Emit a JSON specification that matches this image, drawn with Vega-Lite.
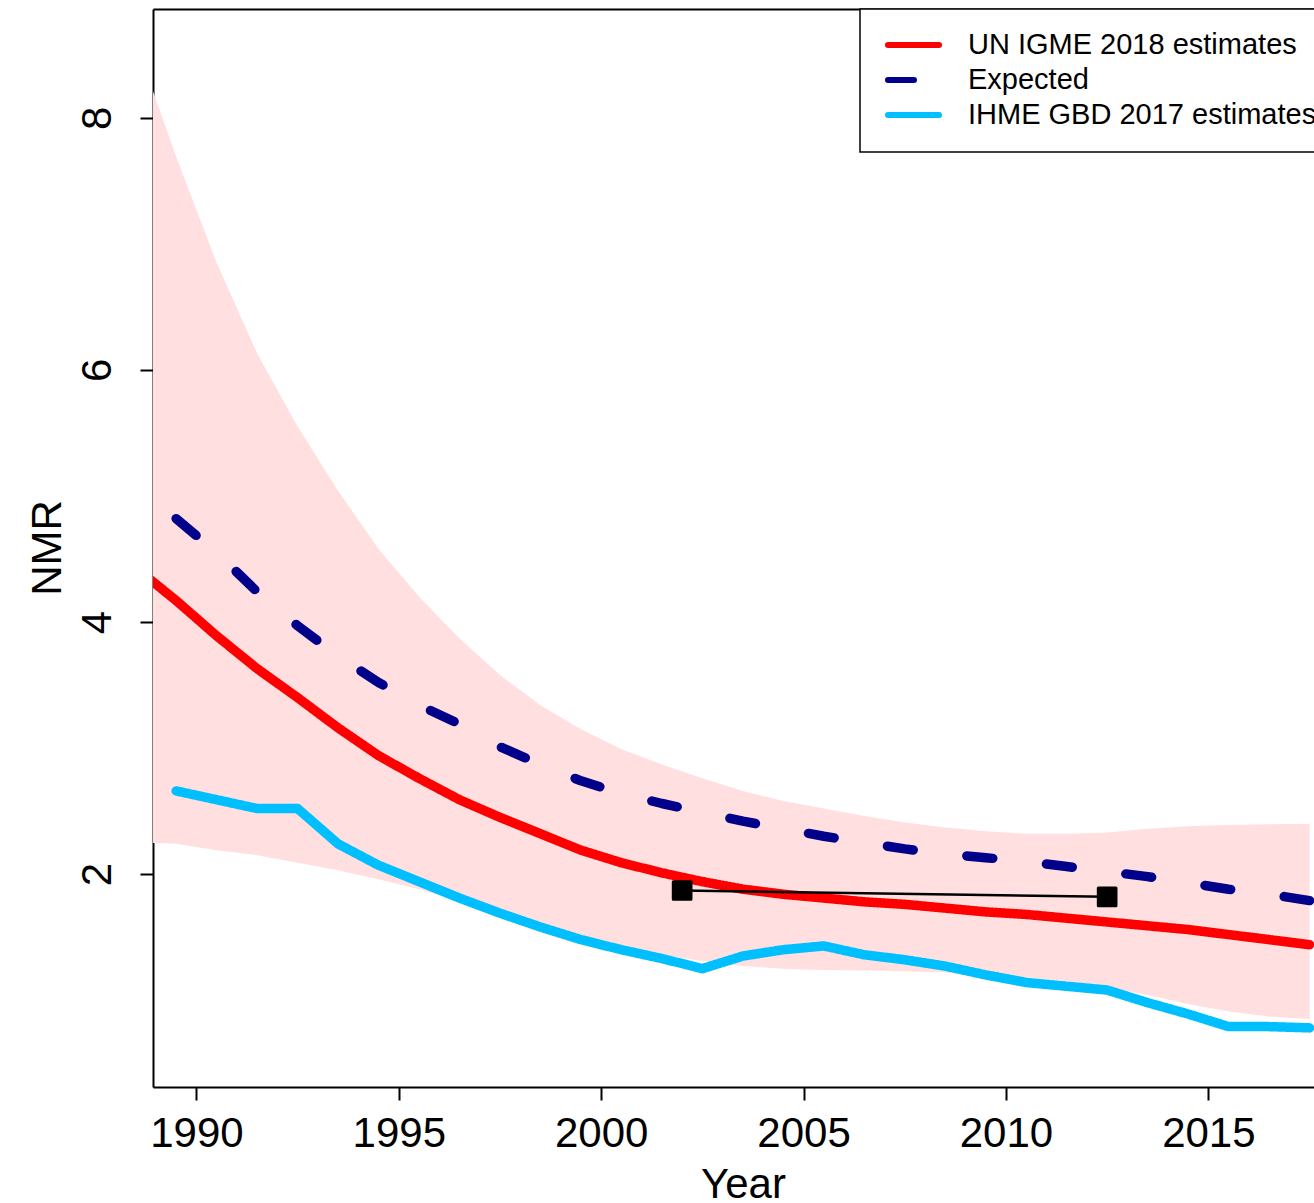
{
  "$schema": "https://vega.github.io/schema/vega-lite/v6.json",
  "width": 1161,
  "height": 1078,
  "autosize": {"type": "none"},
  "padding": {"left": 153, "top": 9, "right": 0, "bottom": 116},
  "background": "white",
  "config": {
    "view": {"stroke": null},
    "font": "Liberation Sans",
    "axis": {"grid": false}
  },
  "datasets": {
    "band": [
      {"year": 1988.5, "nmr": 2.25, "nmr_upper": 8.60},
      {"year": 1989.5, "nmr": 2.24, "nmr_upper": 7.69},
      {"year": 1990.5, "nmr": 2.19, "nmr_upper": 6.85},
      {"year": 1991.5, "nmr": 2.15, "nmr_upper": 6.13},
      {"year": 1992.5, "nmr": 2.09, "nmr_upper": 5.55},
      {"year": 1993.5, "nmr": 2.03, "nmr_upper": 5.04},
      {"year": 1994.5, "nmr": 1.96, "nmr_upper": 4.58},
      {"year": 1995.5, "nmr": 1.88, "nmr_upper": 4.20},
      {"year": 1996.5, "nmr": 1.79, "nmr_upper": 3.87},
      {"year": 1997.5, "nmr": 1.69, "nmr_upper": 3.58},
      {"year": 1998.5, "nmr": 1.59, "nmr_upper": 3.34},
      {"year": 1999.5, "nmr": 1.49, "nmr_upper": 3.15},
      {"year": 2000.5, "nmr": 1.42, "nmr_upper": 2.99},
      {"year": 2001.5, "nmr": 1.36, "nmr_upper": 2.87},
      {"year": 2002.5, "nmr": 1.31, "nmr_upper": 2.76},
      {"year": 2003.5, "nmr": 1.27, "nmr_upper": 2.66},
      {"year": 2004.5, "nmr": 1.25, "nmr_upper": 2.58},
      {"year": 2005.5, "nmr": 1.24, "nmr_upper": 2.52},
      {"year": 2006.5, "nmr": 1.235, "nmr_upper": 2.46},
      {"year": 2007.5, "nmr": 1.23, "nmr_upper": 2.41},
      {"year": 2008.5, "nmr": 1.22, "nmr_upper": 2.37},
      {"year": 2009.5, "nmr": 1.20, "nmr_upper": 2.34},
      {"year": 2010.5, "nmr": 1.18, "nmr_upper": 2.32},
      {"year": 2011.5, "nmr": 1.15, "nmr_upper": 2.32},
      {"year": 2012.5, "nmr": 1.10, "nmr_upper": 2.33},
      {"year": 2013.5, "nmr": 1.04, "nmr_upper": 2.36},
      {"year": 2014.5, "nmr": 0.97, "nmr_upper": 2.38},
      {"year": 2015.5, "nmr": 0.91, "nmr_upper": 2.39},
      {"year": 2016.5, "nmr": 0.87, "nmr_upper": 2.395},
      {"year": 2017.5, "nmr": 0.85, "nmr_upper": 2.40}
    ],
    "lines": [
      {"series": "UN IGME 2018 estimates", "year": 1988.5, "nmr": 4.43},
      {"series": "UN IGME 2018 estimates", "year": 1989.5, "nmr": 4.17},
      {"series": "UN IGME 2018 estimates", "year": 1990.5, "nmr": 3.89},
      {"series": "UN IGME 2018 estimates", "year": 1991.5, "nmr": 3.63},
      {"series": "UN IGME 2018 estimates", "year": 1992.5, "nmr": 3.40},
      {"series": "UN IGME 2018 estimates", "year": 1993.5, "nmr": 3.16},
      {"series": "UN IGME 2018 estimates", "year": 1994.5, "nmr": 2.94},
      {"series": "UN IGME 2018 estimates", "year": 1995.5, "nmr": 2.76},
      {"series": "UN IGME 2018 estimates", "year": 1996.5, "nmr": 2.59},
      {"series": "UN IGME 2018 estimates", "year": 1997.5, "nmr": 2.45},
      {"series": "UN IGME 2018 estimates", "year": 1998.5, "nmr": 2.32},
      {"series": "UN IGME 2018 estimates", "year": 1999.5, "nmr": 2.19},
      {"series": "UN IGME 2018 estimates", "year": 2000.5, "nmr": 2.09},
      {"series": "UN IGME 2018 estimates", "year": 2001.5, "nmr": 2.01},
      {"series": "UN IGME 2018 estimates", "year": 2002.5, "nmr": 1.94},
      {"series": "UN IGME 2018 estimates", "year": 2003.5, "nmr": 1.88},
      {"series": "UN IGME 2018 estimates", "year": 2004.5, "nmr": 1.84},
      {"series": "UN IGME 2018 estimates", "year": 2005.5, "nmr": 1.81},
      {"series": "UN IGME 2018 estimates", "year": 2006.5, "nmr": 1.78},
      {"series": "UN IGME 2018 estimates", "year": 2007.5, "nmr": 1.76},
      {"series": "UN IGME 2018 estimates", "year": 2008.5, "nmr": 1.73},
      {"series": "UN IGME 2018 estimates", "year": 2009.5, "nmr": 1.70},
      {"series": "UN IGME 2018 estimates", "year": 2010.5, "nmr": 1.68},
      {"series": "UN IGME 2018 estimates", "year": 2011.5, "nmr": 1.65},
      {"series": "UN IGME 2018 estimates", "year": 2012.5, "nmr": 1.62},
      {"series": "UN IGME 2018 estimates", "year": 2013.5, "nmr": 1.59},
      {"series": "UN IGME 2018 estimates", "year": 2014.5, "nmr": 1.56},
      {"series": "UN IGME 2018 estimates", "year": 2015.5, "nmr": 1.52},
      {"series": "UN IGME 2018 estimates", "year": 2016.5, "nmr": 1.48},
      {"series": "UN IGME 2018 estimates", "year": 2017.5, "nmr": 1.44},
      {"series": "Expected", "year": 1989.5, "nmr": 4.82},
      {"series": "Expected", "year": 1990.5, "nmr": 4.55},
      {"series": "Expected", "year": 1991.5, "nmr": 4.24},
      {"series": "Expected", "year": 1992.5, "nmr": 3.97},
      {"series": "Expected", "year": 1993.5, "nmr": 3.73},
      {"series": "Expected", "year": 1994.5, "nmr": 3.52},
      {"series": "Expected", "year": 1995.5, "nmr": 3.34},
      {"series": "Expected", "year": 1996.5, "nmr": 3.19},
      {"series": "Expected", "year": 1997.5, "nmr": 3.01},
      {"series": "Expected", "year": 1998.5, "nmr": 2.87},
      {"series": "Expected", "year": 1999.5, "nmr": 2.74},
      {"series": "Expected", "year": 2000.5, "nmr": 2.64},
      {"series": "Expected", "year": 2001.5, "nmr": 2.56},
      {"series": "Expected", "year": 2002.5, "nmr": 2.49},
      {"series": "Expected", "year": 2003.5, "nmr": 2.42},
      {"series": "Expected", "year": 2004.5, "nmr": 2.36},
      {"series": "Expected", "year": 2005.5, "nmr": 2.30},
      {"series": "Expected", "year": 2006.5, "nmr": 2.25},
      {"series": "Expected", "year": 2007.5, "nmr": 2.20},
      {"series": "Expected", "year": 2008.5, "nmr": 2.16},
      {"series": "Expected", "year": 2009.5, "nmr": 2.13},
      {"series": "Expected", "year": 2010.5, "nmr": 2.10},
      {"series": "Expected", "year": 2011.5, "nmr": 2.06},
      {"series": "Expected", "year": 2012.5, "nmr": 2.02},
      {"series": "Expected", "year": 2013.5, "nmr": 1.98},
      {"series": "Expected", "year": 2014.5, "nmr": 1.93},
      {"series": "Expected", "year": 2015.5, "nmr": 1.88},
      {"series": "Expected", "year": 2016.5, "nmr": 1.84},
      {"series": "Expected", "year": 2017.5, "nmr": 1.79},
      {"series": "IHME GBD 2017 estimates", "year": 1989.5, "nmr": 2.66},
      {"series": "IHME GBD 2017 estimates", "year": 1990.5, "nmr": 2.59},
      {"series": "IHME GBD 2017 estimates", "year": 1991.5, "nmr": 2.52},
      {"series": "IHME GBD 2017 estimates", "year": 1992.5, "nmr": 2.52},
      {"series": "IHME GBD 2017 estimates", "year": 1993.5, "nmr": 2.24},
      {"series": "IHME GBD 2017 estimates", "year": 1994.5, "nmr": 2.07},
      {"series": "IHME GBD 2017 estimates", "year": 1995.5, "nmr": 1.94},
      {"series": "IHME GBD 2017 estimates", "year": 1996.5, "nmr": 1.81},
      {"series": "IHME GBD 2017 estimates", "year": 1997.5, "nmr": 1.69},
      {"series": "IHME GBD 2017 estimates", "year": 1998.5, "nmr": 1.58},
      {"series": "IHME GBD 2017 estimates", "year": 1999.5, "nmr": 1.48},
      {"series": "IHME GBD 2017 estimates", "year": 2000.5, "nmr": 1.40},
      {"series": "IHME GBD 2017 estimates", "year": 2001.5, "nmr": 1.33},
      {"series": "IHME GBD 2017 estimates", "year": 2002.5, "nmr": 1.25},
      {"series": "IHME GBD 2017 estimates", "year": 2003.5, "nmr": 1.35},
      {"series": "IHME GBD 2017 estimates", "year": 2004.5, "nmr": 1.40},
      {"series": "IHME GBD 2017 estimates", "year": 2005.5, "nmr": 1.43},
      {"series": "IHME GBD 2017 estimates", "year": 2006.5, "nmr": 1.36},
      {"series": "IHME GBD 2017 estimates", "year": 2007.5, "nmr": 1.32},
      {"series": "IHME GBD 2017 estimates", "year": 2008.5, "nmr": 1.27},
      {"series": "IHME GBD 2017 estimates", "year": 2009.5, "nmr": 1.20},
      {"series": "IHME GBD 2017 estimates", "year": 2010.5, "nmr": 1.14},
      {"series": "IHME GBD 2017 estimates", "year": 2011.5, "nmr": 1.11},
      {"series": "IHME GBD 2017 estimates", "year": 2012.5, "nmr": 1.08},
      {"series": "IHME GBD 2017 estimates", "year": 2013.5, "nmr": 0.98},
      {"series": "IHME GBD 2017 estimates", "year": 2014.5, "nmr": 0.89},
      {"series": "IHME GBD 2017 estimates", "year": 2015.5, "nmr": 0.79},
      {"series": "IHME GBD 2017 estimates", "year": 2016.5, "nmr": 0.79},
      {"series": "IHME GBD 2017 estimates", "year": 2017.5, "nmr": 0.78}
    ],
    "obs": [
      {"year": 2002.0, "nmr": 1.87},
      {"year": 2012.5, "nmr": 1.82}
    ]
  },
  "encoding": {
    "y": {
      "field": "nmr", "type": "quantitative",
      "scale": {"domain": [0.311, 8.863], "nice": false, "zero": false},
      "axis": {
        "orient": "left",
        "values": [2, 4, 6, 8],
        "domainColor": "black", "domainWidth": 2,
        "tickColor": "black", "tickWidth": 2, "tickSize": 13,
        "labelFont": "Liberation Sans", "labelFontSize": 42, "labelColor": "black",
        "labelAngle": 270, "labelAlign": "center", "labelBaseline": "alphabetic", "labelPadding": 30,
        "labelOverlap": false, "labelFlush": false,
        "title": "NMR",
        "titleFont": "Liberation Sans", "titleFontSize": 42, "titleFontWeight": "normal", "titleColor": "black",
        "titleAngle": 270, "titleAlign": "center", "titleBaseline": "alphabetic", "titleX": -93, "titleY": 538.5
      }
    }
  },
  "layer": [
    {
      "data": {"name": "band"},
      "mark": {"type": "area", "fill": "#FFDFDF", "opacity": 1, "clip": true},
      "encoding": {
        "x": {
          "field": "year", "type": "quantitative",
          "scale": {"domain": [1988.928, 2017.61], "nice": false, "zero": false},
          "axis": {
            "orient": "bottom",
            "values": [1990, 1995, 2000, 2005, 2010, 2015],
            "format": "d",
            "domainColor": "black", "domainWidth": 2,
            "tickColor": "black", "tickWidth": 2, "tickSize": 13,
            "labelFont": "Liberation Sans", "labelFontSize": 42, "labelColor": "black",
            "labelBaseline": "alphabetic", "labelAlign": "center", "labelPadding": 46,
            "labelOverlap": false, "labelFlush": false,
            "title": "Year",
            "titleFont": "Liberation Sans", "titleFontSize": 42, "titleFontWeight": "normal", "titleColor": "black",
            "titleAlign": "center", "titleBaseline": "alphabetic", "titleX": 590, "titleY": 110
          }
        },
        "y2": {"field": "nmr_upper"}
      }
    },
    {
      "data": {"name": "lines"},
      "mark": {"type": "line", "strokeWidth": 9.5, "strokeCap": "round", "strokeJoin": "round", "clip": true},
      "encoding": {
        "x": {"field": "year", "type": "quantitative", "axis": null},
        "color": {
          "field": "series", "type": "nominal",
          "scale": {
            "domain": ["UN IGME 2018 estimates", "Expected", "IHME GBD 2017 estimates"],
            "range": ["#FF0000", "#00008B", "#00BFFF"]
          },
          "legend": {
            "title": null,
            "orient": "none",
            "legendX": 707,
            "legendY": 0,
            "direction": "vertical",
            "symbolType": "stroke",
            "symbolSize": 2601,
            "symbolStrokeWidth": 6,
            "symbolOpacity": 1,
            "symbolOffset": 3,
            "labelFont": "Liberation Sans",
            "labelFontSize": 29,
            "labelColor": "black",
            "labelLimit": 1000,
            "labelOffset": 26,
            "padding": 22,
            "rowPadding": 6,
            "clipHeight": 28,
            "strokeColor": "black",
            "fillColor": "white",
            "encoding": {
              "symbols": {
                "strokeDash": {
                  "condition": {"test": "datum.value === 'Expected'", "value": [17, 31]},
                  "value": [1, 0]
                },
                "strokeCap": {"value": "round"}
              },
              "legend": {
                "strokeWidth": {"value": 1.5}
              }
            }
          }
        },
        "strokeDash": {
          "field": "series", "type": "nominal",
          "scale": {
            "domain": ["UN IGME 2018 estimates", "Expected", "IHME GBD 2017 estimates"],
            "range": [[1, 0], [26, 54], [1, 0]]
          },
          "legend": null
        }
      }
    },
    {
      "data": {"name": "obs"},
      "mark": {"type": "line", "color": "black", "strokeWidth": 2.5, "clip": true},
      "encoding": {
        "x": {
          "field": "year", "type": "quantitative",
          "axis": {"orient": "top", "labels": false, "ticks": false, "title": null, "domain": true, "domainColor": "black", "domainWidth": 2}
        }
      }
    },
    {
      "data": {"name": "obs"},
      "mark": {"type": "point", "shape": "square", "filled": true, "fill": "black", "stroke": "black", "strokeWidth": 3, "strokeJoin": "round", "size": 313, "opacity": 1},
      "encoding": {
        "x": {"field": "year", "type": "quantitative", "axis": null}
      }
    }
  ]
}
